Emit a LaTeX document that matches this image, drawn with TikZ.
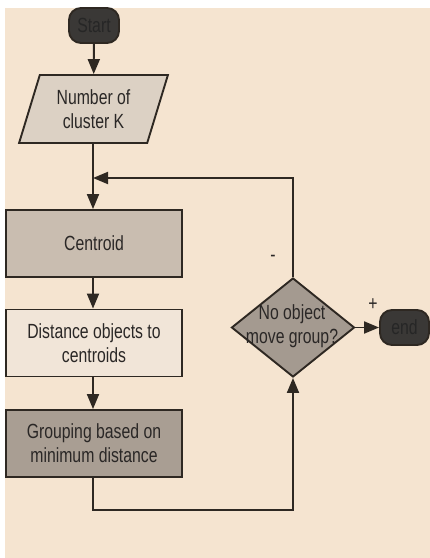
\documentclass[tikz,border=0pt]{standalone}
\usepackage{fontspec}
\setmainfont{Liberation Sans}[FakeStretch=0.77]
\usetikzlibrary{shapes.geometric,arrows.meta}
\definecolor{bgc}{HTML}{F5E4D0}
\definecolor{linec}{HTML}{2E2822}
\definecolor{txtc}{HTML}{2A2726}
\definecolor{parac}{HTML}{DCD1C4}
\definecolor{centc}{HTML}{C9BDB0}
\definecolor{distc}{HTML}{F1E5D8}
\definecolor{grpc}{HTML}{A99E93}
\definecolor{diac}{HTML}{A49A90}
\definecolor{termc}{HTML}{3A3836}
\tikzset{
  base/.style={draw=linec, line width=1.9pt, text=txtc, font=\fontsize{20.5}{24}\selectfont, align=center, inner sep=0pt},
  termbox/.style={base, fill=termc, rounded corners=12pt, text=black!85},
  procbox/.style={base, minimum width=176pt, minimum height=67pt},
  parabox/.style={base, fill=parac, trapezium, trapezium left angle=70, trapezium right angle=110, trapezium stretches=true, minimum width=149pt, minimum height=68pt},
  diabox/.style={base, fill=diac, diamond, minimum width=123pt, minimum height=99pt},
  conn/.style={draw=linec, line width=1.9pt},
  arr/.style={conn, -{Triangle[length=15pt,width=12pt]}},
  lbl/.style={text=txtc, font=\fontsize{20.5}{24}\selectfont, inner sep=0pt}
}
\begin{document}
\begin{tikzpicture}[x=1pt,y=-1pt]
\useasboundingbox (0,0) rectangle (430,558);
\fill[bgc] (5,8) rectangle (430,558);
\node[termbox, minimum width=50pt, minimum height=35pt] (start) at (94,25.5) {Start};
\node[parabox] (num) at (93.5,109) {Number of\\cluster K};
\node[procbox, fill=centc] (cent) at (94,243.5) {Centroid};
\node[procbox, fill=distc] (dist) at (94,343) {Distance objects to\\centroids};
\node[procbox, fill=grpc] (grp) at (94,443.5) {Grouping based on\\minimum distance};
\node[diabox] (dia) at (293,327.5) {};
\node[lbl, align=center] (diat) at (292,326) {No object\\move group?};
\node[termbox, minimum width=49pt, minimum height=35pt] (endn) at (404.5,327.5) {end};
\coordinate (merge) at (93,178);
\coordinate (loopl) at (93,510);
\draw[arr] (start) -- (num);
\draw[arr] (num.south -| merge) -- (cent.north -| merge);
\draw[arr] (cent.south -| merge) -- (dist.north -| merge);
\draw[arr] (dist.south -| merge) -- (grp.north -| merge);
\draw[arr] (grp.south -| loopl) -- (loopl) -| (dia.south);
\draw[arr] (dia.north) |- (merge);
\draw[arr] (dia.east) -- (endn.west);
\node[lbl] (minus) at (273,258) {-};
\node[lbl] (plus) at (373,305) {+};
\end{tikzpicture}
\end{document}
